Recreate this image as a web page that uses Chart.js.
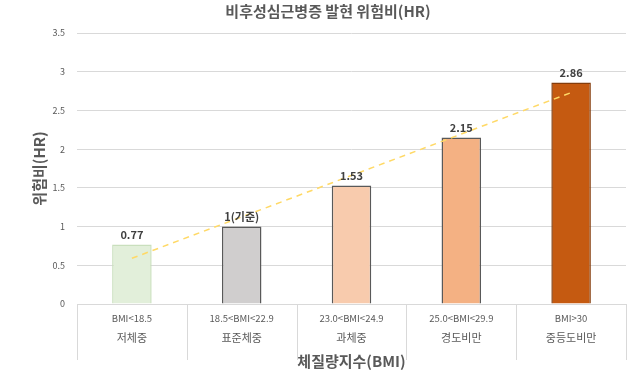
<!DOCTYPE html>
<html>
<head>
<meta charset="utf-8">
<script src="https://cdn.jsdelivr.net/npm/chart.js@4.4.1/dist/chart.umd.min.js"></script>
<style>
    html, body { margin: 0; padding: 0; background: #fff; }
    #wrap { width: 640px; height: 374px; }
</style>
</head>
<body>
<div id="wrap"><canvas id="hrChart"></canvas></div>
<script>
const bmiRanges = ['BMI<18.5', '18.5<BMI<22.9', '23.0<BMI<24.9', '25.0<BMI<29.9', 'BMI>30'];
const bmiGroups = ['저체중', '표준체중', '과체중', '경도비만', '중등도비만'];
const hazardRatios = [0.77, 1, 1.53, 2.15, 2.86];
const valueLabels = ['0.77', '1(기준)', '1.53', '2.15', '2.86'];
// trendline end points
const trendValues = [0.59, null, null, null, 2.73];

const barColors = ['#E2EFDA', '#D0CECE', '#F8CBAD', '#F4B183', '#C55A11'];
const barBorders = ['#C9DFBD', '#595959', '#595959', '#595959', '#843C0C'];

const FONT = "'Noto Sans CJK KR', 'Noto Sans', sans-serif";
const TEXT_COLOR = '#595959';

// two-line category labels and the dividers under the axis
const categoryPlugin = {
    id: 'categoryLabels',
    afterDraw(chart) {
        const ctx = chart.ctx;
        const xs = chart.scales.x;
        const top = xs.top;
        const step = xs.width / bmiRanges.length;
        ctx.save();
        ctx.strokeStyle = '#D9D9D9';
        ctx.lineWidth = 1;
        for (let i = 0; i <= bmiRanges.length; i++) {
            const x = Math.round(xs.left + step * i) + 0.5;
            ctx.beginPath();
            ctx.moveTo(x, top);
            ctx.lineTo(x, top + 56);
            ctx.stroke();
        }
        ctx.fillStyle = TEXT_COLOR;
        ctx.textAlign = 'center';
        ctx.textBaseline = 'middle';
        bmiRanges.forEach((r, i) => {
            const x = xs.getPixelForValue(i);
            ctx.font = `9.5px ${FONT}`;
            ctx.fillText(r, x, top + 14);
            ctx.font = `11px ${FONT}`;
            ctx.fillText(bmiGroups[i], x, top + 34);
        });
        ctx.restore();
    }
};

// value labels above the bars
const valuePlugin = {
    id: 'valueLabels',
    afterDatasetsDraw(chart) {
        const ctx = chart.ctx;
        const meta = chart.getDatasetMeta(0);
        ctx.save();
        ctx.fillStyle = '#404040';
        ctx.font = `bold 11px ${FONT}`;
        ctx.textAlign = 'center';
        ctx.textBaseline = 'middle';
        meta.data.forEach((bar, i) => {
            ctx.fillText(valueLabels[i], bar.x, bar.y - 10);
        });
        ctx.restore();
    }
};

const ctx = document.getElementById('hrChart').getContext('2d');
const hrChart = new Chart(ctx, {
    type: 'bar',
    data: {
        labels: bmiRanges,
        datasets: [{
            label: '위험비',
            data: hazardRatios,
            backgroundColor: barColors,
            borderColor: barBorders,
            borderWidth: 1.5,
            borderSkipped: 'bottom',
            categoryPercentage: 1,
            barPercentage: 0.36,
            order: 2
        }, {
            type: 'line',
            label: '추세선',
            data: trendValues,
            borderColor: '#FFD966',
            borderWidth: 1.5,
            borderDash: [6, 5],
            pointRadius: 0,
            spanGaps: true,
            fill: false,
            order: 1
        }]
    },
    options: {
        responsive: true,
        maintainAspectRatio: false,
        animation: false,
        layout: { padding: { left: 30, right: 14, top: 0, bottom: 4 } },
        plugins: {
            legend: { display: false },
            tooltip: { enabled: false },
            title: {
                display: true,
                text: '비후성심근병증 발현 위험비(HR)',
                color: TEXT_COLOR,
                font: { family: FONT, size: 15, weight: 'bold' },
                padding: { top: 2, bottom: 13 }
            }
        },
        scales: {
            x: {
                grid: { display: false },
                border: { display: true, color: '#D9D9D9' },
                ticks: { display: false },
                title: {
                    display: true,
                    text: '체질량지수(BMI)',
                    color: TEXT_COLOR,
                    font: { family: FONT, size: 15, weight: 'bold' },
                    padding: { top: 0, bottom: 0 }
                },
                afterFit(scale) { scale.height = 66; }
            },
            y: {
                min: 0,
                max: 3.5,
                border: { display: false },
                grid: { color: '#D9D9D9', drawTicks: false },
                ticks: {
                    stepSize: 0.5,
                    padding: 12,
                    color: TEXT_COLOR,
                    font: { family: FONT, size: 9 },
                    callback: (v) => String(v)
                },
                title: {
                    display: true,
                    text: '위험비(HR)',
                    color: TEXT_COLOR,
                    font: { family: FONT, size: 15, weight: 'bold' },
                    padding: { top: 0, bottom: 0 }
                },
                afterFit(scale) { scale.width = 47; }
            }
        }
    },
    plugins: [categoryPlugin, valuePlugin]
});
</script>
</body>
</html>
